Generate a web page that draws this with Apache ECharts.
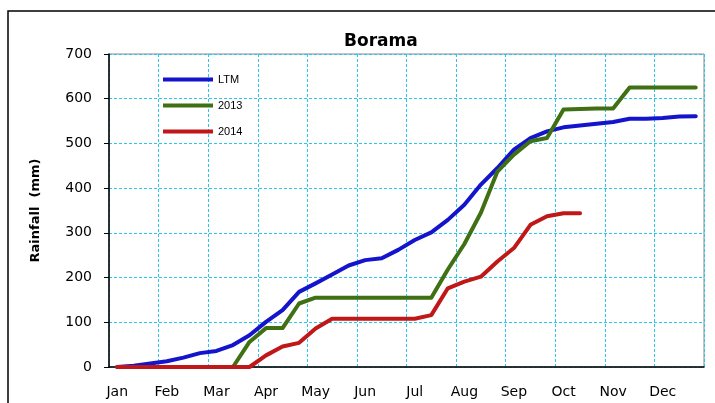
<!DOCTYPE html>
<html>
<head>
<meta charset="utf-8">
<script src="https://cdn.jsdelivr.net/npm/echarts@6/dist/echarts.min.js"></script>
<style>
html,body{margin:0;padding:0;background:#fff;}
#chart{width:715px;height:403px;}
</style>
</head>
<body>
<div id="chart"></div>
<script>
// Month names (tick labels) and dekads (3 per month)
var months = ['Jan','Feb','Mar','Apr','May','Jun','Jul','Aug','Sep','Oct','Nov','Dec'];
var yTicks = [0,100,200,300,400,500,600,700];

// Cumulative rainfall (mm) per dekad
var ltm = [0, 3, 8, 13, 21, 31, 36, 49, 71, 101, 127, 168, 187, 207, 227, 239, 243, 262,
           284, 301, 329, 363, 408, 445, 486, 512, 527, 536, 540, 544, 548, 555, 555, 557, 560, 561];
var y2013 = [0, 0, 0, 0, 0, 0, 0, 0, 56, 87, 87, 142, 155, 155, 155, 155, 155, 155,
             155, 155, 218, 275, 345, 437, 475, 505, 512, 576, 577, 578, 578, 625, 625, 625, 625, 625];
var y2014 = [0, 0, 0, 0, 0, 0, 0, 0, 0, 26, 46, 54, 86, 108, 108, 108, 108, 108,
             108, 116, 176, 191, 202, 236, 266, 318, 337, 344, 344];

var dekads = [];
months.forEach(function(m){ dekads.push(m + ' 1', m + ' 2', m + ' 3'); });

var chart = echarts.init(document.getElementById('chart'));
var axisFont = 'DejaVu Sans';
chart.setOption({
  backgroundColor: '#ffffff',
  animation: false,
  title: {
    text: 'Borama',
    left: 339,
    top: 28,
    textStyle: {fontFamily: 'DejaVu Sans', fontWeight: 'bold', fontSize: 17, color: '#000'}
  },
  graphic: [{
    type: 'rect',
    shape: {x: 8, y: 11, width: 800, height: 500},
    style: {fill: 'none', stroke: '#000', lineWidth: 1.5},
    silent: true
  }],
  legend: {
    orient: 'vertical',
    left: 158,
    top: 68,
    itemWidth: 50,
    itemHeight: 4,
    itemGap: 13,
    icon: 'rect',
    textStyle: {fontFamily: 'Liberation Sans', fontSize: 11, color: '#000', lineHeight: 13},
    data: ['LTM', '2013', '2014']
  },
  grid: {
    left: 109, right: 11, top: 54, bottom: 36,
    show: true, borderColor: '#888', borderWidth: 1, backgroundColor: 'transparent'
  },
  xAxis: {
    type: 'category',
    data: dekads,
    boundaryGap: true,
    axisLine: {lineStyle: {color: '#000', width: 1.5}},
    axisTick: {interval: 2, length: 5, lineStyle: {color: '#000'}},
    axisLabel: {
      interval: 2,
      margin: 18,
      fontFamily: axisFont,
      fontSize: 14,
      color: '#000',
      formatter: function(v){ return v.split(' ')[0]; }
    },
    splitLine: {show: true, interval: 2, lineStyle: {color: '#2cc6ea', type: [3, 2], width: 1}}
  },
  yAxis: {
    type: 'value',
    min: 0, max: 700, interval: 100,
    name: 'Rainfall  (mm)',
    nameLocation: 'middle',
    nameGap: 67,
    nameTextStyle: {fontFamily: 'DejaVu Sans', fontWeight: 'bold', fontSize: 13, color: '#000'},
    axisLine: {show: true, lineStyle: {color: '#000', width: 1.5}},
    axisTick: {show: true, length: 5, lineStyle: {color: '#000'}},
    axisLabel: {
      margin: 17, fontFamily: axisFont, fontSize: 14, color: '#000',
      formatter: function(v){ return yTicks.indexOf(v) >= 0 ? String(v) : ''; }
    },
    splitLine: {show: true, lineStyle: {color: '#2cc6ea', type: [3, 2], width: 1}}
  },
  series: [
    {name: 'LTM', type: 'line', data: ltm, symbol: 'none', color: '#1414cc',
     lineStyle: {width: 4, cap: 'round', join: 'round'}},
    {name: '2013', type: 'line', data: y2013, symbol: 'none', color: '#3f7014',
     lineStyle: {width: 4, cap: 'round', join: 'round'}},
    {name: '2014', type: 'line', data: y2014, symbol: 'none', color: '#c01818',
     lineStyle: {width: 4, cap: 'round', join: 'round'}}
  ]
});
</script>
</body>
</html>
